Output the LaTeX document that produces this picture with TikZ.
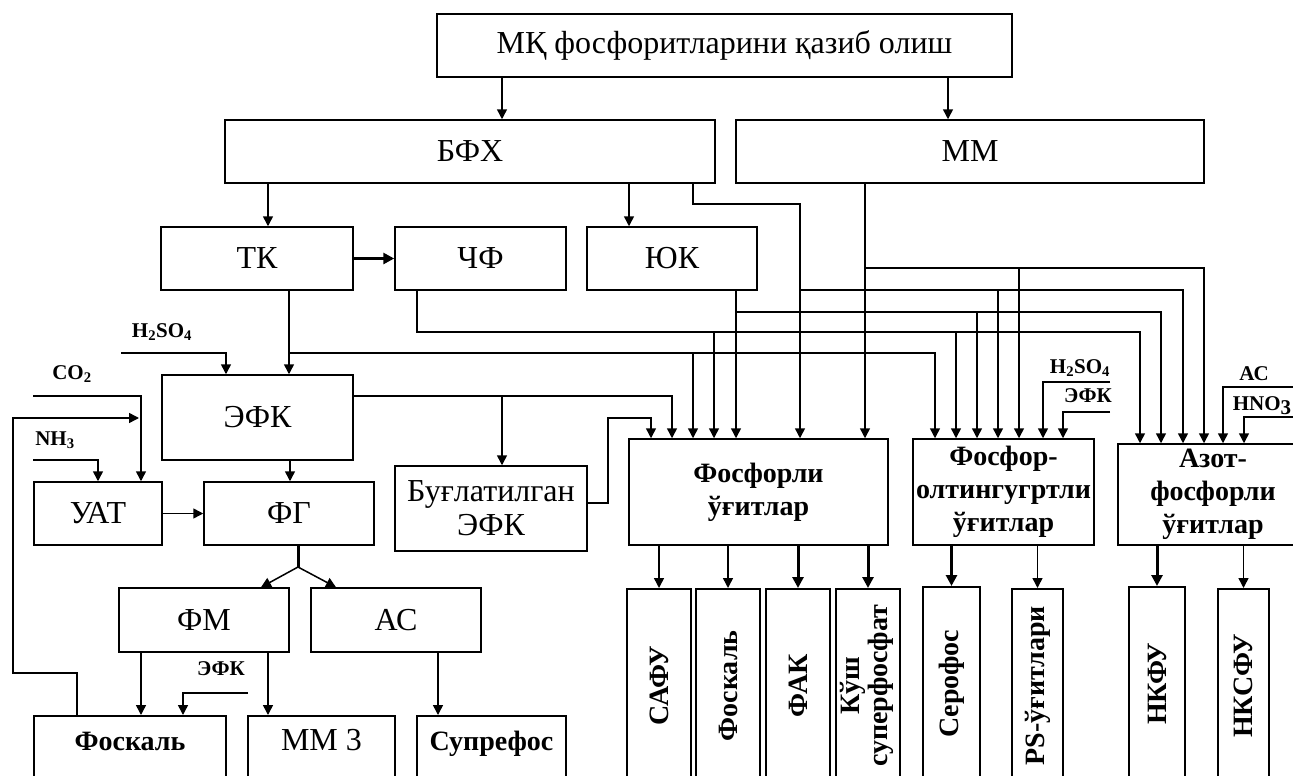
\documentclass[tikz,border=0pt]{standalone}
\usepackage{fontspec}
\setmainfont{Liberation Serif}
\usetikzlibrary{arrows.meta}
\tikzset{
        blk/.style={draw=black, line width=1.5pt, inner sep=0pt, align=center},
        blk_reg/.style={blk, font=\fontsize{32}{34}\selectfont},
        blk_bold/.style={blk, font=\bfseries\fontsize{28}{33}\selectfont},
        blk_open/.style={anchor=north, text height=20pt, text depth=50pt, inner ysep=15pt},
        blk_vert/.style={blk, anchor=north, minimum height=194pt, font=\bfseries\fontsize{28}{27}\selectfont},
        chem_lbl/.style={anchor=base, inner sep=0pt, font=\bfseries\fontsize{21}{23}\selectfont},
        ln/.style={line width=1.5pt},
        arr/.style={ln, -{Triangle[width=10pt,length=10pt]}},
        arr_thick/.style={line width=3pt, -{Triangle[width=11pt,length=11pt]}}
    }

\begin{document}
\begin{tikzpicture}[x=1pt, y=-1pt]
    \useasboundingbox (0,0) rectangle (1293,776);
    % upper blocks
    \node[blk_reg, minimum width=575pt, minimum height=63pt] (top) at (724.5,45.5) {МҚ фосфоритларини қазиб олиш};
    \node[blk_reg, minimum width=490pt, minimum height=63pt] (bfx) at (470,151.5) {БФХ};
    \node[blk_reg, minimum width=468pt, minimum height=63pt] (mm) at (970,151.5) {ММ};
    \node[blk_reg, minimum width=192pt, minimum height=63pt] (tk) at (257,258.5) {ТК};
    \node[blk_reg, minimum width=171pt, minimum height=63pt] (chf) at (480.5,258.5) {ЧФ};
    \node[blk_reg, minimum width=170pt, minimum height=63pt] (yuk) at (672,258.5) {ЮК};
    % acid branch
    \node[blk_reg, minimum width=191pt, minimum height=85pt] (efk) at (257.5,417.5) {ЭФК};
    \node[blk_reg, minimum width=192pt, minimum height=85pt] (bug) at (491,508.5) {Буғлатилган\\ЭФК};
    \node[blk_reg, minimum width=128pt, minimum height=63pt] (uat) at (98,513.5) {УАТ};
    \node[blk_reg, minimum width=170pt, minimum height=63pt] (fg) at (289,513.5) {ФГ};
    \node[blk_reg, minimum width=170pt, minimum height=64pt] (fm) at (204,620) {ФМ};
    \node[blk_reg, minimum width=170pt, minimum height=64pt] (as) at (396,620) {АС};
    \node[blk_bold, blk_open, minimum width=192pt] (foskal) at (130,715) {Фоскаль};
    \node[blk_reg, blk_open, minimum width=147pt] (mm3) at (321.5,715) {ММ 3};
    \node[blk_bold, blk_open, minimum width=149pt] (supref) at (491.5,715) {Супрефос};
    % fertilizer groups
    \node[blk_bold, minimum width=259pt, minimum height=106pt] (fosforli) at (758.5,492) {Фосфорли\\ўғитлар};
    \node[blk_bold, minimum width=181pt, minimum height=106pt] (fosolt) at (1003.5,492) {Фосфор-\\олтингугртли\\ўғитлар};
    \node[blk_bold, minimum width=190pt, minimum height=101pt] (azot) at (1213,494.5) {Азот-\\фосфорли\\ўғитлар};
    % products
    \node[blk_vert, minimum width=64pt] (safu) at (659,588) {\rotatebox{90}{САФУ}};
    \node[blk_vert, minimum width=64pt] (foskal_v) at (728,588) {\rotatebox{90}{Фоскаль}};
    \node[blk_vert, minimum width=64pt] (fak) at (798,588) {\rotatebox{90}{ФАК}};
    \node[blk_vert, minimum width=64pt] (kush) at (868,588) {\rotatebox{90}{\begin{tabular}{@{}c@{}}Кўш\\суперфосфат\end{tabular}}};
    \node[blk_vert, minimum width=57pt] (serofos) at (951.5,586) {\rotatebox{90}{Серофос}};
    \node[blk_vert, minimum width=51pt] (ps) at (1037.5,588) {\rotatebox{90}{PS-ўғитлари}};
    \node[blk_vert, minimum width=56pt] (nkfu) at (1157,586) {\rotatebox{90}{НКФУ}};
    \node[blk_vert, minimum width=51pt] (nksfu) at (1243.5,588) {\rotatebox{90}{НКСФУ}};

    % reagent labels
    \node[chem_lbl] (h2so4_a) at (162,337) {H\textsubscript{2}SO\textsubscript{4}};
    \node[chem_lbl] (co2) at (72,379) {CO\textsubscript{2}};
    \node[chem_lbl] (nh3) at (55,445) {NH\textsubscript{3}};
    \node[chem_lbl] (efk_lbl) at (221,675) {ЭФК};
    \node[chem_lbl] (h2so4_b) at (1080,373) {H\textsubscript{2}SO\textsubscript{4}};
    \node[chem_lbl] (efk_lbl_b) at (1088,402) {ЭФК};
    \node[chem_lbl] (as_lbl) at (1254,380) {АС};
    \node[chem_lbl] (hno3) at (1262,410) {HNO\raisebox{-4pt}{3}};
    \coordinate (h2so4_in) at (121,353);
    \coordinate (co2_in) at (33,396);
    \coordinate (nh3_in) at (33,460);
    \coordinate (efk_in) at (248,693);
    \coordinate (h2so4_in_b) at (1110,382);
    \coordinate (efk_in_b) at (1110,412);
    \coordinate (as_in) at (1293,387);
    \coordinate (hno3_in) at (1293,417);

    % top level
    \draw[arr] (top.south -| 502,0) -- (bfx.north -| 502,0);
    \draw[arr] (top.south -| 948,0) -- (mm.north -| 948,0);
    \draw[arr] (bfx.south -| 268,0) -- (tk.north -| 268,0);
    \draw[arr] (bfx.south -| 629,0) -- (yuk.north -| 629,0);
    \draw[arr_thick] (tk) -- (chf);

    % БФХ line
    \draw[arr] (bfx.south -| 693,0) |- (800,204) -- (fosforli.north -| 800,0);
    \draw[arr] (800,290) -| (azot.north -| 1183,0);
    \draw[arr] (998,290) -- (fosolt.north -| 998,0);
    % ММ line
    \draw[arr] (mm.south -| 865,0) -- (fosforli.north -| 865,0);
    \draw[arr] (865,268) -| (azot.north -| 1204,0);
    \draw[arr] (1019,268) -- (fosolt.north -| 1019,0);
    % ЮК line
    \draw[arr] (yuk.south -| 736,0) -- (fosforli.north -| 736,0);
    \draw[arr] (736,312) -| (azot.north -| 1161,0);
    \draw[arr] (977,312) -- (fosolt.north -| 977,0);
    % ЧФ line
    \draw[arr] (chf.south -| 417,0) |- (1140,332) -- (azot.north -| 1140,0);
    \draw[arr] (714,332) -- (fosforli.north -| 714,0);
    \draw[arr] (956,332) -- (fosolt.north -| 956,0);
    % ТК line
    \draw[arr] (tk.south -| 289,0) -- (efk.north -| 289,0);
    \draw[arr] (289,353) -| (fosolt.north -| 935,0);
    \draw[arr] (693,353) -- (fosforli.north -| 693,0);

    % ЭФК
    \draw[arr] (h2so4_in) -| (efk.north -| 226,0);
    \draw[arr] (efk.east |- 0,396) -| (fosforli.north -| 672,0);
    \draw[arr] (502,396) -- (bug.north -| 502,0);
    \draw[arr] (bug.east |- 0,503) -| (608,418) -| (fosforli.north -| 651,0);
    \draw[arr] (efk.south -| 290,0) -- (fg.north -| 290,0);

    % УАТ, ФГ
    \draw[arr] (co2_in) -| (uat.north -| 141,0);
    \draw[arr] (nh3_in) -| (uat.north -| 98,0);
    \draw[arr] (foskal.north -| 77,0) |- (13,673) |- (139,418);
    \draw[arr] (uat) -- (fg);
    \draw[line width=3pt] (fg.south -| 298,0) -- (298,567) coordinate (fork);
    \draw[arr] (fork) -- (fm.north -| 261,0);
    \draw[arr] (fork) -- (as.north -| 336,0);
    \draw[arr] (fm.south -| 141,0) -- (foskal.north -| 141,0);
    \draw[arr] (fm.south -| 268,0) -- (mm3.north -| 268,0);
    \draw[arr] (efk_in) -| (foskal.north -| 183,0);
    \draw[arr] (as.south -| 438,0) -- (supref.north -| 438,0);

    % feeds on the right
    \draw[arr] (h2so4_in_b) -| (fosolt.north -| 1043,0);
    \draw[arr] (efk_in_b) -| (fosolt.north -| 1063,0);
    \draw[arr] (as_in) -| (azot.north -| 1223,0);
    \draw[arr] (hno3_in) -| (azot.north -| 1244,0);

    % products
    \draw[arr] (fosforli.south -| safu.north) -- (safu.north);
    \draw[arr] (fosforli.south -| foskal_v.north) -- (foskal_v.north);
    \draw[arr_thick] (fosforli.south -| fak.north) -- (fak.north);
    \draw[arr_thick] (fosforli.south -| kush.north) -- (kush.north);
    \draw[arr_thick] (fosolt.south -| serofos.north) -- (serofos.north);
    \draw[arr] (fosolt.south -| ps.north) -- (ps.north);
    \draw[arr_thick] (azot.south -| nkfu.north) -- (nkfu.north);
    \draw[arr] (azot.south -| nksfu.north) -- (nksfu.north);
\end{tikzpicture}
\end{document}
